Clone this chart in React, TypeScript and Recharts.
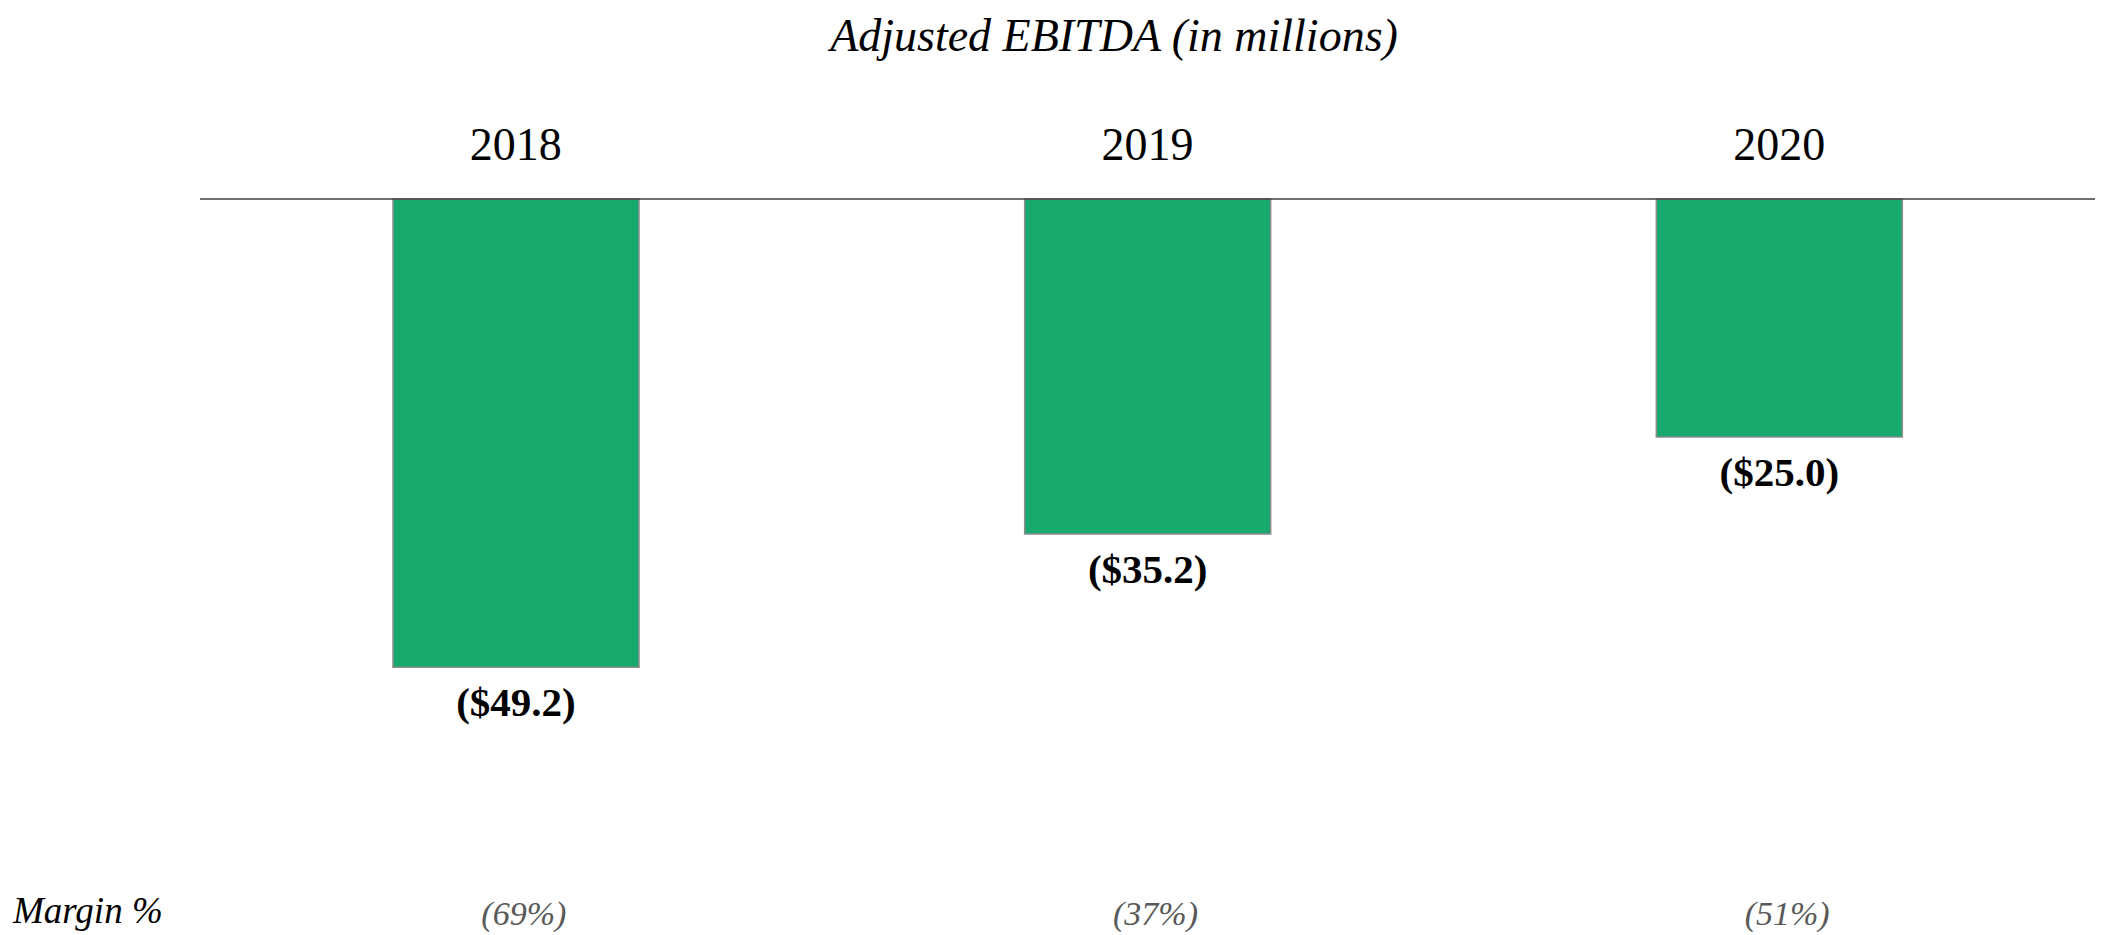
import React from "react";
import { BarChart, Bar, XAxis, YAxis, LabelList, Label } from "recharts";

const years = ["2018", "2019", "2020"];
const ebitda = [-49.2, -35.2, -25.0];
const valueLabels = ["($49.2)", "($35.2)", "($25.0)"];
const marginLabels = ["(69%)", "(37%)", "(51%)"];
const chartTitle = "Adjusted EBITDA (in millions)";
const marginTitle = "Margin %";

const data = years.map((y, i) => ({
  year: y,
  value: ebitda[i],
  label: valueLabels[i],
  margin: marginLabels[i],
}));

const FONT = '"Liberation Serif", "Times New Roman", Times, serif';

const YearTick = (props: any) => {
  const { x, y, payload } = props;
  return (
    <text x={x} y={y - 39} textAnchor="middle" fontFamily={FONT} fontSize={46} fill="#000">
      {payload.value}
    </text>
  );
};

const MarginTick = (props: any) => {
  const { x, y, payload } = props;
  return (
    <text x={x + 8} y={y + 155} textAnchor="middle" fontFamily={FONT} fontSize={34} fontStyle="italic" fill="#595959">
      {payload.value}
    </text>
  );
};

const ValueLabel = (props: any) => {
  const { x, y, width, height, value } = props;
  const bottom = Math.max(Number(y), Number(y) + Number(height));
  return (
    <text x={Number(x) + Number(width) / 2} y={bottom + 49} textAnchor="middle" fontFamily={FONT} fontSize={41} fontWeight="bold" fill="#000">
      {value}
    </text>
  );
};

const TitleLabel = (props: any) => {
  return (
    <text x={1114} y={51} textAnchor="middle" fontFamily={FONT} fontSize={46} fontStyle="italic" fill="#000">
      {chartTitle}
    </text>
  );
};

const MarginTitleLabel = (props: any) => {
  const { viewBox } = props;
  return (
    <text x={13} y={viewBox.y + 153} textAnchor="start" fontFamily={FONT} fontSize={37} fontStyle="italic" fill="#000">
      {marginTitle}
    </text>
  );
};

export default function App() {
  return (
    <div style={{ position: "absolute", left: 0, top: 0, width: 2101, height: 935, background: "#fff" }}>
      <BarChart
        width={2101}
        height={935}
        data={data}
        margin={{ top: 139, right: 6, bottom: 0, left: 200 }}
      >
        <XAxis
          xAxisId="top"
          dataKey="year"
          orientation="top"
          height={60}
          tickLine={false}
          tickSize={0}
          tickMargin={0}
          axisLine={{ stroke: "#404040", strokeWidth: 1.5 }}
          tick={<YearTick />}
          interval={0}
        >
          <Label content={<TitleLabel />} />
        </XAxis>
        <XAxis
          xAxisId="bottom"
          dataKey="margin"
          orientation="bottom"
          height={165}
          tickLine={false}
          tickSize={0}
          tickMargin={0}
          axisLine={false}
          tick={<MarginTick />}
          interval={0}
        >
          <Label content={<MarginTitleLabel />} />
        </XAxis>
        <YAxis hide domain={[-60, 0]} width={0} />
        <Bar
          xAxisId="top"
          dataKey="value"
          fill="#17A96E"
          stroke="#8C8C8C"
          strokeWidth={1.5}
          barSize={246}
          isAnimationActive={false}
        >
          <LabelList dataKey="label" content={<ValueLabel />} />
        </Bar>
      </BarChart>
    </div>
  );
}
